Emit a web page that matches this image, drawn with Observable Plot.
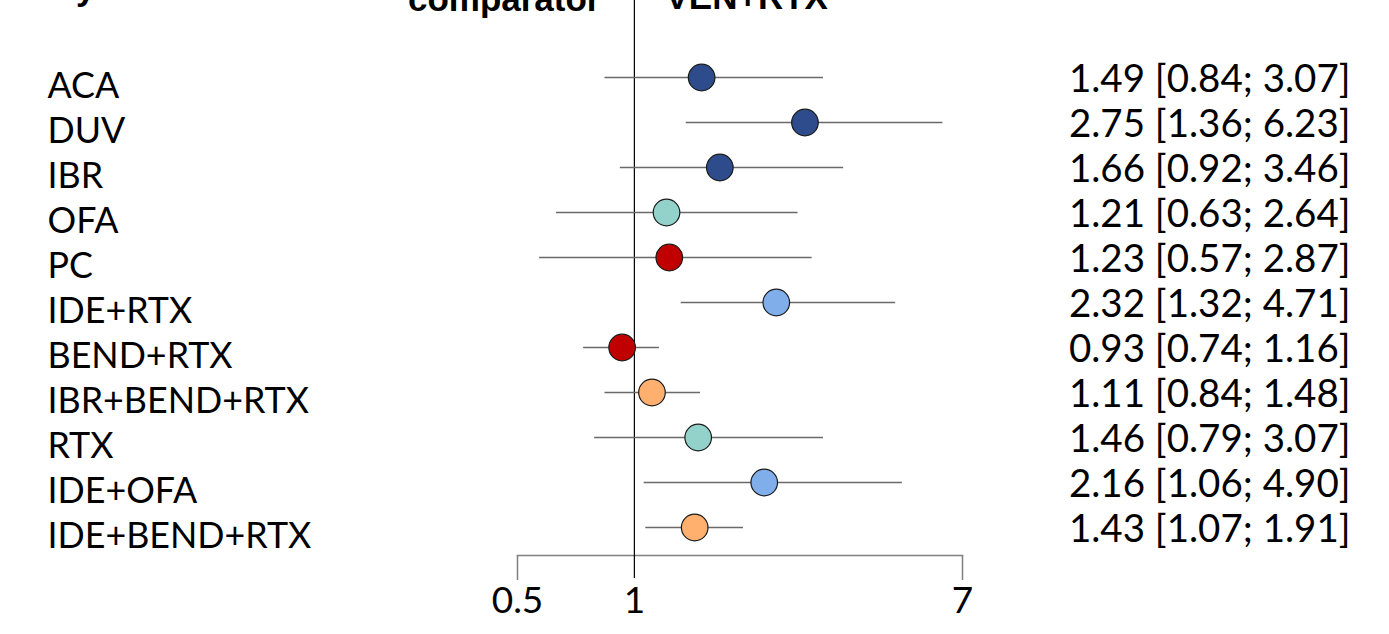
<!DOCTYPE html>
<html>
<head>
<meta charset="utf-8">
<script src="https://cdn.jsdelivr.net/npm/d3@7"></script>
<script src="https://cdn.jsdelivr.net/npm/@observablehq/plot@0.6"></script>
<style>
  html, body { margin: 0; padding: 0; background: #fff; overflow: hidden; }
  #chart svg { display: block; }
</style>
</head>
<body>
<div id="chart"></div>
<script>
// ---- data ----
const treatments = ["ACA", "DUV", "IBR", "OFA", "PC", "IDE+RTX", "BEND+RTX", "IBR+BEND+RTX", "RTX", "IDE+OFA", "IDE+BEND+RTX"];
const estimates  = [1.49, 2.75, 1.66, 1.21, 1.23, 2.32, 0.93, 1.11, 1.46, 2.16, 1.43];
const lowers     = [0.84, 1.36, 0.92, 0.63, 0.57, 1.32, 0.74, 0.84, 0.79, 1.06, 1.07];
const uppers     = [3.07, 6.23, 3.46, 2.64, 2.87, 4.71, 1.16, 1.48, 3.07, 4.90, 1.91];
const groups     = ["single agent", "single agent", "single agent", "anti-CD20", "chemo", "IDE combo", "chemo", "triple", "anti-CD20", "IDE combo", "triple"];
const groupNames = ["single agent", "anti-CD20", "chemo", "IDE combo", "triple"];
const groupColors = ["#2E4B8C", "#93D1CB", "#C00000", "#7FAEEA", "#FFB06F"];
const xTicks = [0.5, 1, 7];
const headerLeft = "comparator";
const headerRight = "VEN+RTX";
const headerStudy = "Study";

const rows = treatments.map((t, i) => ({
  t, est: estimates[i], lo: lowers[i], hi: uppers[i], g: groups[i],
  label: `${estimates[i].toFixed(2)} [${lowers[i].toFixed(2)}; ${uppers[i].toFixed(2)}]`
}));

const W = 1389, H = 634;
const font = "Lato, 'Open Sans', sans-serif";
const fsLeft = 35.8;
const fsRight = 38.5;
const fsTick = 37;
const hdrFont = "'Liberation Sans', Arial, sans-serif";

const chart = Plot.plot({
  width: W,
  height: H,
  marginLeft: 517,
  marginRight: 427,
  marginTop: 0,
  marginBottom: 79,
  style: { fontFamily: font, background: "white", overflow: "hidden" },
  x: { type: "log", domain: [0.5, 7] },
  y: { type: "point", domain: treatments, range: [73, 531], padding: 0, axis: null },
  color: { domain: groupNames, range: groupColors },
  marks: [
    // axis baseline
    Plot.frame({ anchor: "bottom", stroke: "#808080", strokeWidth: 1.5 }),
    // gray end ticks
    Plot.axisX({ ticks: [xTicks[0], xTicks[2]], tickSize: 25, stroke: "#808080", strokeWidth: 1.5, tickFormat: () => "", label: null }),
    // tick labels
    Plot.axisX({ ticks: xTicks, tickSize: 0, tickPadding: 31, tickFormat: d => String(d), fontSize: fsTick, fill: "black", label: null }),
    // reference line at 1
    Plot.ruleX([1], { stroke: "black", strokeWidth: 1.2, insetBottom: -23 }),
    // CI lines
    Plot.ruleY(rows, { y: "t", x1: "lo", x2: "hi", stroke: "#6a6a6a", strokeWidth: 1.4 }),
    // estimates
    Plot.dot(rows, { x: "est", y: "t", r: 13.3, fill: "g", stroke: "#1a1a1a", strokeWidth: 1.2 }),
    // treatment labels
    Plot.text(rows, { y: "t", text: "t", frameAnchor: "left", dx: 47 - 517, dy: 9, textAnchor: "start", fontSize: fsLeft, fill: "black" }),
    // estimate labels
    Plot.text(rows, { y: "t", text: "label", frameAnchor: "right", dx: 1350 - 962, dy: 2, textAnchor: "end", fontSize: fsRight, fill: "black" }),
    // headers (cut off at top, as in the reference)
    Plot.text([headerLeft], { frameAnchor: "top-left", dx: 600 - 517, dy: -14, textAnchor: "end", fontSize: 35, fontWeight: "bold", fontFamily: hdrFont, fill: "black" }),
    Plot.text([headerRight], { frameAnchor: "top-left", dx: 665 - 517, dy: -16, textAnchor: "start", fontSize: 35, fontWeight: "bold", fontFamily: hdrFont, fill: "black" }),
    Plot.text([headerStudy], { frameAnchor: "top-left", dx: 95 - 517, dy: -25, textAnchor: "end", fontSize: 35, fontWeight: "bold", fontFamily: hdrFont, fill: "black" })
  ]
});
document.getElementById("chart").appendChild(chart);
</script>
</body>
</html>
